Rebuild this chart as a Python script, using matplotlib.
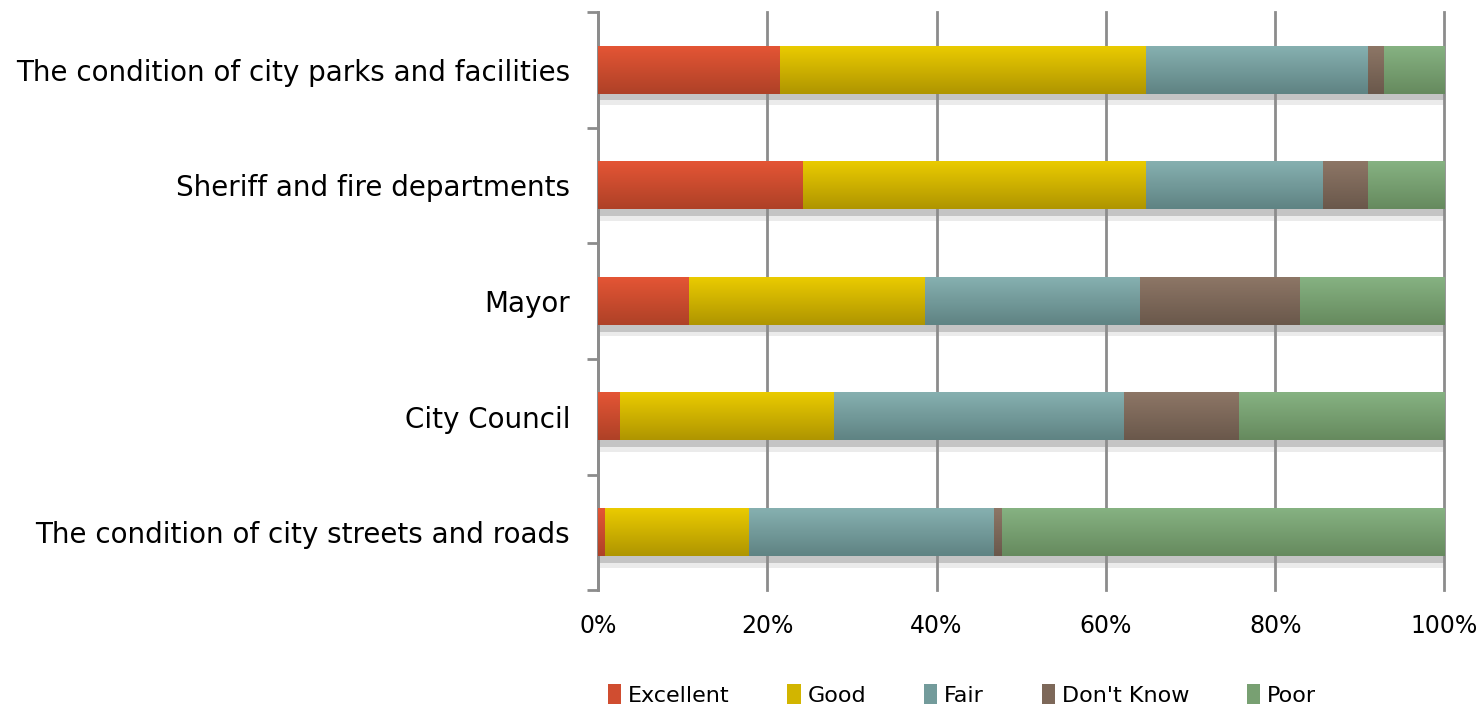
import matplotlib
matplotlib.use('Agg')
import matplotlib.pyplot as plt
import numpy as np
from matplotlib.patches import Patch
from matplotlib.colors import to_rgb

categories = [
    'The condition of city streets and roads',
    'City Council',
    'Mayor',
    'Sheriff and fire departments',
    'The condition of city parks and facilities',
]
series = ['Excellent', 'Good', 'Fair', "Don't Know", 'Poor']

# percent values (bottom bar first)
excellent = [0.8, 2.6, 10.7, 24.2, 21.5]
good = [17.1, 25.3, 27.9, 40.6, 43.3]
fair = [28.9, 34.2, 25.4, 20.8, 26.2]
dont_know = [0.9, 13.6, 18.9, 5.4, 1.8]
poor = [52.3, 24.3, 17.1, 9.0, 7.2]

values = [excellent, good, fair, dont_know, poor]

# light top / dark bottom of each gradient
tops = ['#E45535', '#EACB00', '#86B0B0', '#8D7666', '#86B282']
bottoms = ['#AE4127', '#AF9500', '#5F8383', '#6A584B', '#668A5E']
mids = ['#D04D30', '#D2B500', '#739B9B', '#7D6859', '#78A072']

plt.rcParams['font.family'] = ['DejaVu Sans']

fig = plt.figure(figsize=(14.8, 7.06), dpi=100)
ax = fig.add_axes([0.404, 0.164, 0.572, 0.819])

y = np.arange(len(categories))
h = 0.41

# shadow under the bars
ax.barh(y - h / 2 - 0.05, 100, height=0.1, color='#EBEBEB', zorder=0.3)
ax.barh(y - h / 2 - 0.03, 100, height=0.06, color='#C4C4C4', zorder=0.3)

left = np.zeros(len(categories))
for i, vals in enumerate(values):
    vals = np.array(vals)
    c1 = np.array(to_rgb(tops[i]))
    c2 = np.array(to_rgb(bottoms[i]))
    grad = np.linspace(0, 1, 64)[:, None, None]
    img = c1 * (1 - grad) + c2 * grad
    for j in range(len(categories)):
        ax.imshow(img, extent=(left[j], left[j] + vals[j], y[j] - h / 2, y[j] + h / 2),
                  aspect='auto', origin='upper', zorder=3, interpolation='bilinear')
    left += vals

ax.set_xlim(0, 100)
ax.set_ylim(-0.5, len(categories) - 0.5)
ax.set_aspect('auto')

ax.set_xticks(np.arange(0, 101, 20))
ax.set_xticklabels([f'{v}%' for v in range(0, 101, 20)], fontsize=17)
ax.tick_params(axis='x', length=0, pad=17)
ax.xaxis.grid(True, color='#8C8C8C', linewidth=2)
for gl in ax.get_xgridlines():
    gl.set_clip_on(False)
ax.set_axisbelow(True)

ax.set_yticks(y)
ax.set_yticklabels(categories, fontsize=20)
ax.set_yticks(np.arange(-0.5, len(categories)), minor=True)
ax.tick_params(axis='y', which='major', length=0, pad=20)
ax.tick_params(axis='y', which='minor', length=8, width=2, color='#8C8C8C')

for s in ['top', 'right', 'bottom']:
    ax.spines[s].set_visible(False)
ax.spines['left'].set_color('#8C8C8C')
ax.spines['left'].set_linewidth(2)

handles = [Patch(facecolor=mids[i], label=series[i]) for i in range(len(series))]
fig.legend(handles=handles, loc='lower center', ncol=5, frameon=False,
           fontsize=16, bbox_to_anchor=(0.65, -0.028), handlelength=0.6,
           handleheight=1.0, handletextpad=0.3, columnspacing=2.6)

fig.savefig('out.png', dpi=100)
